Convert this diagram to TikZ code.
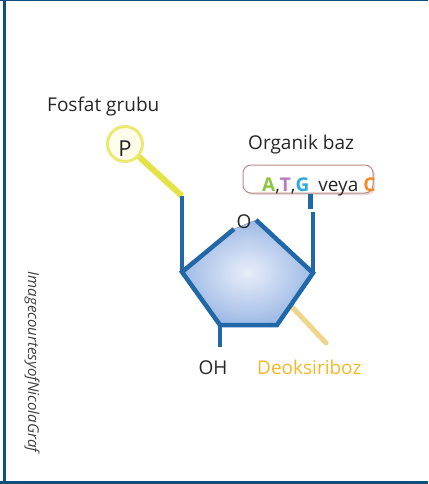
\documentclass[tikz,border=0pt]{standalone}
\usepackage{fontspec}
\setmainfont{Open Sans}
\usetikzlibrary{shadows}
\definecolor{frame}{HTML}{0E5080}
\definecolor{ring}{HTML}{2168A8}
\definecolor{ringfill}{HTML}{9FBAE6}
\definecolor{ringlight}{HTML}{E8EEF9}
\definecolor{stickP}{HTML}{E4E245}
\definecolor{stickD}{HTML}{EED58A}
\definecolor{deo}{HTML}{F6B825}
\definecolor{baseA}{HTML}{8BC540}
\definecolor{baseT}{HTML}{B77CBF}
\definecolor{baseG}{HTML}{2AAAE2}
\definecolor{baseC}{HTML}{F58A1F}
\definecolor{boxline}{HTML}{B88A8A}
\tikzset{
  lbl/.style={font=\fontsize{19}{22}\selectfont, text=black!85, inner sep=0pt},
  bond/.style={draw=ring, line width=4.5pt, line cap=butt, line join=miter},
}
\begin{document}
\begin{tikzpicture}[x=1pt,y=-1pt]
\useasboundingbox (0,0) rectangle (428,484);
% frame
\draw[frame, line width=1.5pt] (0,0.75) -- (428,0.75);
\draw[frame, line width=3pt] (4.5,0) -- (4.5,484);
\draw[frame, line width=3pt] (0,482.5) -- (428,482.5);

% ring corners
\coordinate (L) at (182,272);
\coordinate (OL) at (234,229);
\coordinate (OR) at (256,220);
\coordinate (R) at (313,273);
\coordinate (BR) at (277,325);
\coordinate (BL) at (220,325);

% sugar ring body
\fill[inner color=ringlight, outer color=ringfill]
  (L) -- (OL) -- (OR) -- (R) -- (BR) -- (BL) -- cycle;

% pointer stick to the sugar label
\coordinate (Dstart) at (292,307);
\coordinate (Dend) at (326,343);
\draw[stickD, line width=5pt, line cap=round] (Dstart) -- (Dend);

% ring bonds
\draw[bond] (OL) -- (L) -- (BL) -- (BR) -- (R) -- (OR);

% side chains
\coordinate (Ltop) at (182,196);
\coordinate (Rtop) at (313,212);
\coordinate (OHbot) at (220,347);
\draw[bond] (L) -- (Ltop);
\draw[bond] (R) -- (Rtop);
\draw[bond] (BL) -- (OHbot);

% phosphate group
\node[circle, minimum size=35pt, inner sep=0pt, draw=stickP!75!white, line width=3pt,
      fill=yellow!8] (P) at (125,144) {};
\draw[stickP, line width=6pt] (P) -- (Ltop);
\draw[ring, line width=4.5pt] (Ltop) -- ++(0,6);
\node[lbl, font=\fontsize{22}{24}\selectfont] (Ptext) at (125,149) {P};
\node[lbl, anchor=base west] (fosfat) at (47,111) {Fosfat grubu};

% ring oxygen
\node[lbl] (O) at (244,222) {O};

% base box
\node[draw=boxline, rounded corners=8pt, line width=1pt, fill=white,
      drop shadow={shadow xshift=2pt, shadow yshift=-2pt, fill=red!40!black, opacity=0.15},
      minimum width=130pt, minimum height=28pt, inner sep=0pt] (box) at (308,179) {};
\node[lbl, anchor=base west] (bases) at (262,191)
  {\textbf{\textcolor{baseA}{A}},\textbf{\textcolor{baseT}{T}},\textbf{\textcolor{baseG}{G}}\hspace{9pt}veya \textbf{\textcolor{baseC}{C}}};
\draw[ring, line width=5pt] (box.south -| Rtop) ++(-3,0) -- ++(0,15);
\node[lbl, anchor=base west] (organik) at (248,149) {Organik baz};

% labels under the ring
\node[lbl, anchor=base] (OH) at (213,374) {OH};
\node[lbl, anchor=base west, text=deo] (deoks) at (257,374) {Deoksiriboz};

% credit line
\node[lbl, font=\itshape\fontsize{15}{17}\selectfont, text=black!75, rotate=-90] (credit) at (32,362) {ImagecourtesyofNicolaGraf};
\end{tikzpicture}
\end{document}
